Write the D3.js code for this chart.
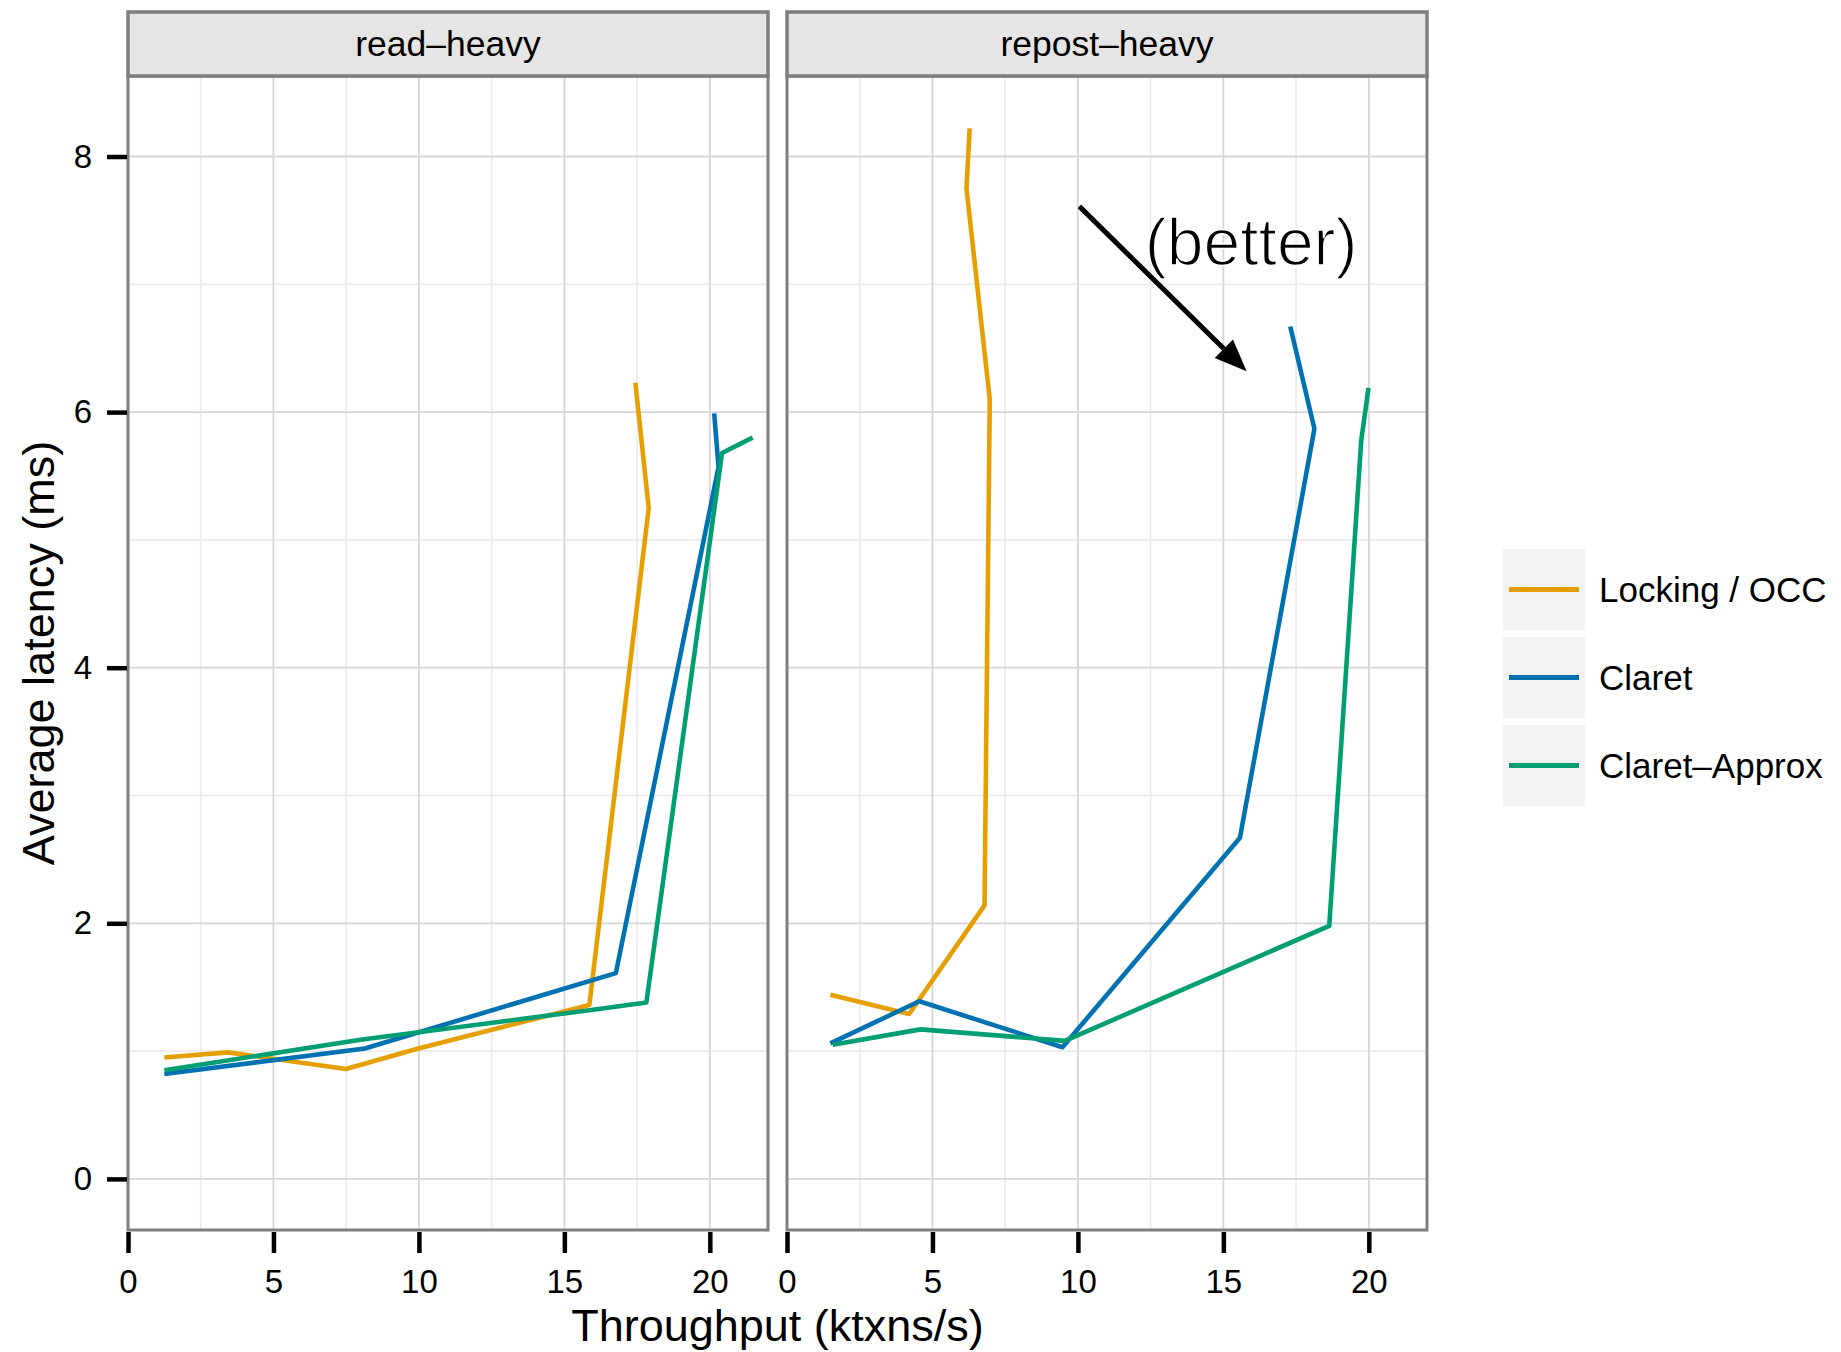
<!DOCTYPE html>
<html>
<head>
<meta charset="utf-8">
<script src="https://cdn.jsdelivr.net/npm/d3@7"></script>
<style>
  body { margin: 0; background: #fff; }
  svg { display: block; font-family: "Liberation Sans", Arial, Helvetica, sans-serif; }
</style>
</head>
<body>
<svg id="chart"></svg>
<script>
// facets and series
var panels = ["read\u2013heavy", "repost\u2013heavy"]
var systems = ["Locking / OCC", "Claret", "Claret\u2013Approx"]
var colors = ["#E69F00", "#0072B2", "#009E73"]

// [throughput, latency], in run order
var readLocking = [[1.25,0.95],[3.44,0.99],[7.49,0.86],[9.98,1.02],[15.86,1.36],[17.9,5.25],[17.44,6.23]]
var readClaret  = [[1.25,0.82],[8.14,1.02],[16.77,1.61],[20.3,5.57],[20.15,5.99]]
var readApprox  = [[1.25,0.85],[8.05,1.09],[15.86,1.32],[17.82,1.38],[20.42,5.68],[21.47,5.80]]

var repostLocking = [[1.49,1.44],[4.20,1.29],[6.79,2.14],[6.97,6.10],[6.17,7.75],[6.28,8.22]]
var repostClaret  = [[1.49,1.06],[4.55,1.39],[9.47,1.03],[15.57,2.67],[18.13,5.87],[17.30,6.67]]
var repostApprox  = [[1.57,1.05],[4.59,1.17],[9.55,1.08],[18.64,1.98],[19.74,5.78],[19.99,6.19]]

var xTicks = [0, 5, 10, 15, 20]
var xMinor = [2.5, 7.5, 12.5, 17.5]
var yTicks = [0, 2, 4, 6, 8]
var yMinor = [1, 3, 5, 7]

// annotation, in data units of the second panel
var arrowFrom = [10.05, 7.61]
var arrowTo = [15.8, 6.32]
var betterAt = [12.3, 7.15]

function main(){
    var width = 1841
    var height = 1352
    var svg = d3.select('#chart').attr("width", width).attr("height", height)

    var series = [
        [readLocking, readClaret, readApprox],
        [repostLocking, repostClaret, repostApprox]
    ]

    var panelLeft = [128, 787]
    var panelW = 640
    var top = 76, bottom = 1230, stripTop = 12

    var yScale = d3.scaleLinear().domain([-0.40, 8.63]).range([bottom, top])

    var line = d3.line()

    panels.forEach(function(name, p){
        var xScale = d3.scaleLinear().domain([0, 22]).range([panelLeft[p], panelLeft[p] + panelW])
        var g = svg.append("g")

        g.append("rect")
            .attr("x", panelLeft[p]).attr("y", top)
            .attr("width", panelW).attr("height", bottom - top)
            .style("fill", "#fff")

        // grid
        g.selectAll(".xminor").data(xMinor).join("line")
            .attr("x1", d=>xScale(d)).attr("x2", d=>xScale(d))
            .attr("y1", top).attr("y2", bottom)
            .style("stroke", "#ebebeb").style("stroke-width", 1.6)
        g.selectAll(".yminor").data(yMinor).join("line")
            .attr("y1", d=>yScale(d)).attr("y2", d=>yScale(d))
            .attr("x1", panelLeft[p]).attr("x2", panelLeft[p] + panelW)
            .style("stroke", "#ebebeb").style("stroke-width", 1.6)
        g.selectAll(".xmajor").data(xTicks).join("line")
            .attr("x1", d=>xScale(d)).attr("x2", d=>xScale(d))
            .attr("y1", top).attr("y2", bottom)
            .style("stroke", "#d6d6d6").style("stroke-width", 1.8)
        g.selectAll(".ymajor").data(yTicks).join("line")
            .attr("y1", d=>yScale(d)).attr("y2", d=>yScale(d))
            .attr("x1", panelLeft[p]).attr("x2", panelLeft[p] + panelW)
            .style("stroke", "#d6d6d6").style("stroke-width", 1.8)

        // data lines
        series[p].forEach(function(pts, i){
            g.append("path")
                .attr("d", line(pts.map(d => [xScale(d[0]), yScale(d[1])])))
                .style("fill", "none")
                .style("stroke", colors[i])
                .style("stroke-width", 4.6)
                .style("stroke-linejoin", "round")
        })

        // border
        g.append("rect")
            .attr("x", panelLeft[p]).attr("y", top)
            .attr("width", panelW).attr("height", bottom - top)
            .style("fill", "none").style("stroke", "#7f7f7f").style("stroke-width", 3)

        // strip
        g.append("rect")
            .attr("x", panelLeft[p]).attr("y", stripTop)
            .attr("width", panelW).attr("height", top - stripTop)
            .style("fill", "#e5e5e5").style("stroke", "#7f7f7f").style("stroke-width", 3.5)
        g.append("text")
            .attr("x", panelLeft[p] + panelW / 2).attr("y", (stripTop + top) / 2)
            .attr("dy", "0.35em")
            .attr("text-anchor", "middle")
            .style("font-size", "35.5px")
            .text(name)

        // x axis
        var xAxis = d3.axisBottom(xScale).tickValues(xTicks).tickSize(21).tickPadding(17)
        var ax = g.append("g").attr("transform", "translate(0," + (bottom + 2) + ")").call(xAxis)
        ax.select(".domain").remove()
        ax.selectAll(".tick line").style("stroke", "#000").style("stroke-width", 4.5)
        ax.selectAll(".tick text").style("font-size", "33px").style("fill", "#000")
            .style("font-family", "Liberation Sans, Arial, sans-serif")

        if (p == 0) {
            var yAxis = d3.axisLeft(yScale).tickValues(yTicks).tickSize(20).tickPadding(15)
            var ay = g.append("g").attr("transform", "translate(" + (panelLeft[p] - 1) + ",0)").call(yAxis)
            ay.select(".domain").remove()
            ay.selectAll(".tick line").style("stroke", "#000").style("stroke-width", 4.5)
            ay.selectAll(".tick text").style("font-size", "33px").style("fill", "#000")
                .style("font-family", "Liberation Sans, Arial, sans-serif")
        }

        if (p == 1) {
            // (better) label, thinned a little with a white outline
            g.append("text")
                .attr("x", xScale(betterAt[0])).attr("y", yScale(betterAt[1]))
                .style("font-size", "66px")
                .style("fill", "#000")
                .style("stroke", "#fff").style("stroke-width", 1.6)
                .text("(better)")

            var x1 = xScale(arrowFrom[0]), y1 = yScale(arrowFrom[1])
            var x2 = xScale(arrowTo[0]), y2 = yScale(arrowTo[1])
            var ang = Math.atan2(y2 - y1, x2 - x1)
            var headLen = 32, headW = 13
            var bx = x2 - headLen * Math.cos(ang), by = y2 - headLen * Math.sin(ang)
            g.append("line")
                .attr("x1", x1).attr("y1", y1).attr("x2", bx).attr("y2", by)
                .style("stroke", "#000").style("stroke-width", 5)
            g.append("path")
                .attr("d", "M" + x2 + "," + y2 +
                    "L" + (bx + headW * Math.sin(ang)) + "," + (by - headW * Math.cos(ang)) +
                    "L" + (bx - headW * Math.sin(ang)) + "," + (by + headW * Math.cos(ang)) + "Z")
                .style("fill", "#000")
        }
    })

    // axis titles
    svg.append("text")
        .attr("x", (panelLeft[0] + panelLeft[1] + panelW) / 2).attr("y", 1341)
        .attr("text-anchor", "middle")
        .style("font-size", "45px")
        .text("Throughput (ktxns/s)")
    svg.append("text")
        .attr("transform", "translate(54," + (top + bottom) / 2 + ") rotate(-90)")
        .attr("text-anchor", "middle")
        .style("font-size", "45px")
        .text("Average latency (ms)")

    // legend
    var legend = svg.append("g").attr("transform", "translate(1503,549)")
    var key = legend.selectAll("g").data(systems).join("g")
        .attr("transform", (d,i)=> "translate(0," + i * 88 + ")")
    key.append("rect").attr("width", 82).attr("height", 81).style("fill", "#f2f2f2")
    key.append("line").attr("x1", 6).attr("x2", 76).attr("y1", 40.5).attr("y2", 40.5)
        .style("stroke", (d,i)=>colors[i]).style("stroke-width", 5)
    key.append("text").attr("x", 96).attr("y", 40.5).attr("dy", "0.36em")
        .style("font-size", "35px")
        .text(d=>d)
}
main()
</script>
</body>
</html>
